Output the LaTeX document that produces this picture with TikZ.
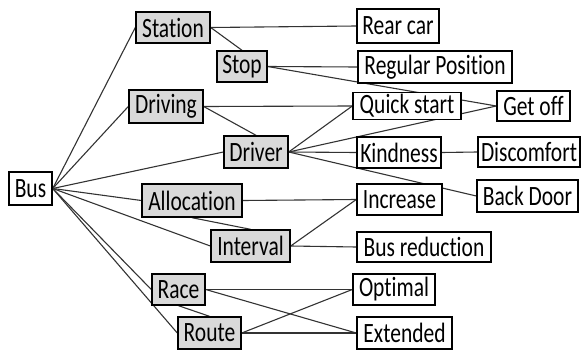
\documentclass[tikz,border=0pt]{standalone}
\usepackage{fontspec}
\setmainfont[Ligatures=NoCommon]{Carlito}
\usepackage{graphicx}
\usetikzlibrary{backgrounds}
\definecolor{boxgray}{RGB}{217,217,217}
\newcommand{\tx}[1]{\scalebox{1}[1.3]{#1}}
\tikzset{
  base/.style={draw=black, line width=1.4pt, inner sep=0pt, font=\fontsize{21.5}{21.5}\selectfont, text=black},
  gbox/.style={base, fill=boxgray},
  wbox/.style={base, fill=white},
  conn/.style={draw=black!80, line width=1.1pt}
}
\begin{document}
\begin{tikzpicture}[x=1pt,y=-1pt]
\useasboundingbox (0,0) rectangle (583,353);
% grey nodes
\node[wbox, minimum width=43pt, minimum height=33pt] (bus) at (30.5,188.5) {\tx{Bus}};
\node[gbox, minimum width=74pt, minimum height=31pt] (station) at (173,27.5) {\tx{Station}};
\node[gbox, minimum width=50pt, minimum height=31pt] (stop) at (242,66.5) {\tx{Stop}};
\node[gbox, minimum width=74pt, minimum height=33pt] (driving) at (166,106.5) {\tx{Driving}};
\node[gbox, minimum width=64pt, minimum height=32pt] (driver) at (256,152) {\tx{Driver}};
\node[gbox, minimum width=100pt, minimum height=33pt] (alloc) at (192,200.5) {\tx{Allocation}};
\node[gbox, minimum width=79pt, minimum height=32pt] (interval) at (250.5,246) {\tx{Interval}};
\node[gbox, minimum width=53pt, minimum height=31pt] (race) at (178.5,289.5) {\tx{Race}};
\node[gbox, minimum width=63pt, minimum height=32pt] (route) at (209.5,333) {\tx{Route}};
% white nodes
\node[wbox, minimum width=82pt, minimum height=34pt] (rear) at (398,26) {\tx{Rear car}};
\node[wbox, minimum width=154pt, minimum height=32pt] (regular) at (435,67) {\tx{Regular Position}};
\node[wbox, minimum width=108pt, minimum height=27pt] (quick) at (407,106) {\tx{Quick start}};
\node[wbox, minimum width=73pt, minimum height=30pt] (getoff) at (533.5,106) {\tx{Get off}};
\node[wbox, minimum width=84pt, minimum height=31pt] (kind) at (399,152.5) {\tx{Kindness}};
\node[wbox, minimum width=102pt, minimum height=30pt] (discomfort) at (529,152) {\tx{Discomfort}};
\node[wbox, minimum width=85pt, minimum height=31pt] (increase) at (399.5,199.5) {\tx{Increase}};
\node[wbox, minimum width=101pt, minimum height=32pt] (backdoor) at (527.5,196) {\tx{Back Door}};
\node[wbox, minimum width=134pt, minimum height=30pt] (busred) at (424,247) {\tx{Bus reduction}};
\node[wbox, minimum width=82pt, minimum height=31pt] (optimal) at (394,289.5) {\tx{Optimal}};
\node[wbox, minimum width=95pt, minimum height=32pt] (extended) at (404.5,333) {\tx{Extended}};
\begin{scope}[on background layer]
\draw[conn] (bus.east) -- (station.west);
\draw[conn] (bus.east) -- (driving.west);
\draw[conn] (bus.east) -- (driver.west);
\draw[conn] (bus.east) -- (alloc.west);
\draw[conn] (bus.east) -- (interval.west);
\draw[conn] (bus.east) -- (race.west);
\draw[conn] (bus.east) -- (route.west);
\draw[conn] (station.east) -- (rear.west);
\draw[conn] (station.east) -- (stop.north);
\draw[conn] (stop.east) -- (regular.west);
\draw[conn] (stop.east) -- (getoff.west);
\draw[conn] (driving.east) -- (quick.west);
\draw[conn] (driving.east) -- (driver.north);
\draw[conn] (driver.east) -- (quick.west);
\draw[conn] (driver.east) -- (getoff.west);
\draw[conn] (driver.east) -- (kind.west);
\draw[conn] (driver.east) -- (backdoor.west);
\draw[conn] (kind.east) -- (discomfort.west);
\draw[conn] (alloc.east) -- (increase.west);
\draw[conn] (alloc.south) -- (interval.north);
\draw[conn] (interval.east) -- (increase.west);
\draw[conn] (interval.east) -- (busred.west);
\draw[conn] (race.east) -- (optimal.west);
\draw[conn] (race.east) -- (extended.west);
\draw[conn] (race.south) -- (route.north);
\draw[conn] (route.east) -- (optimal.west);
\draw[conn] (route.east) -- (extended.west);
\end{scope}
\end{tikzpicture}
\end{document}
